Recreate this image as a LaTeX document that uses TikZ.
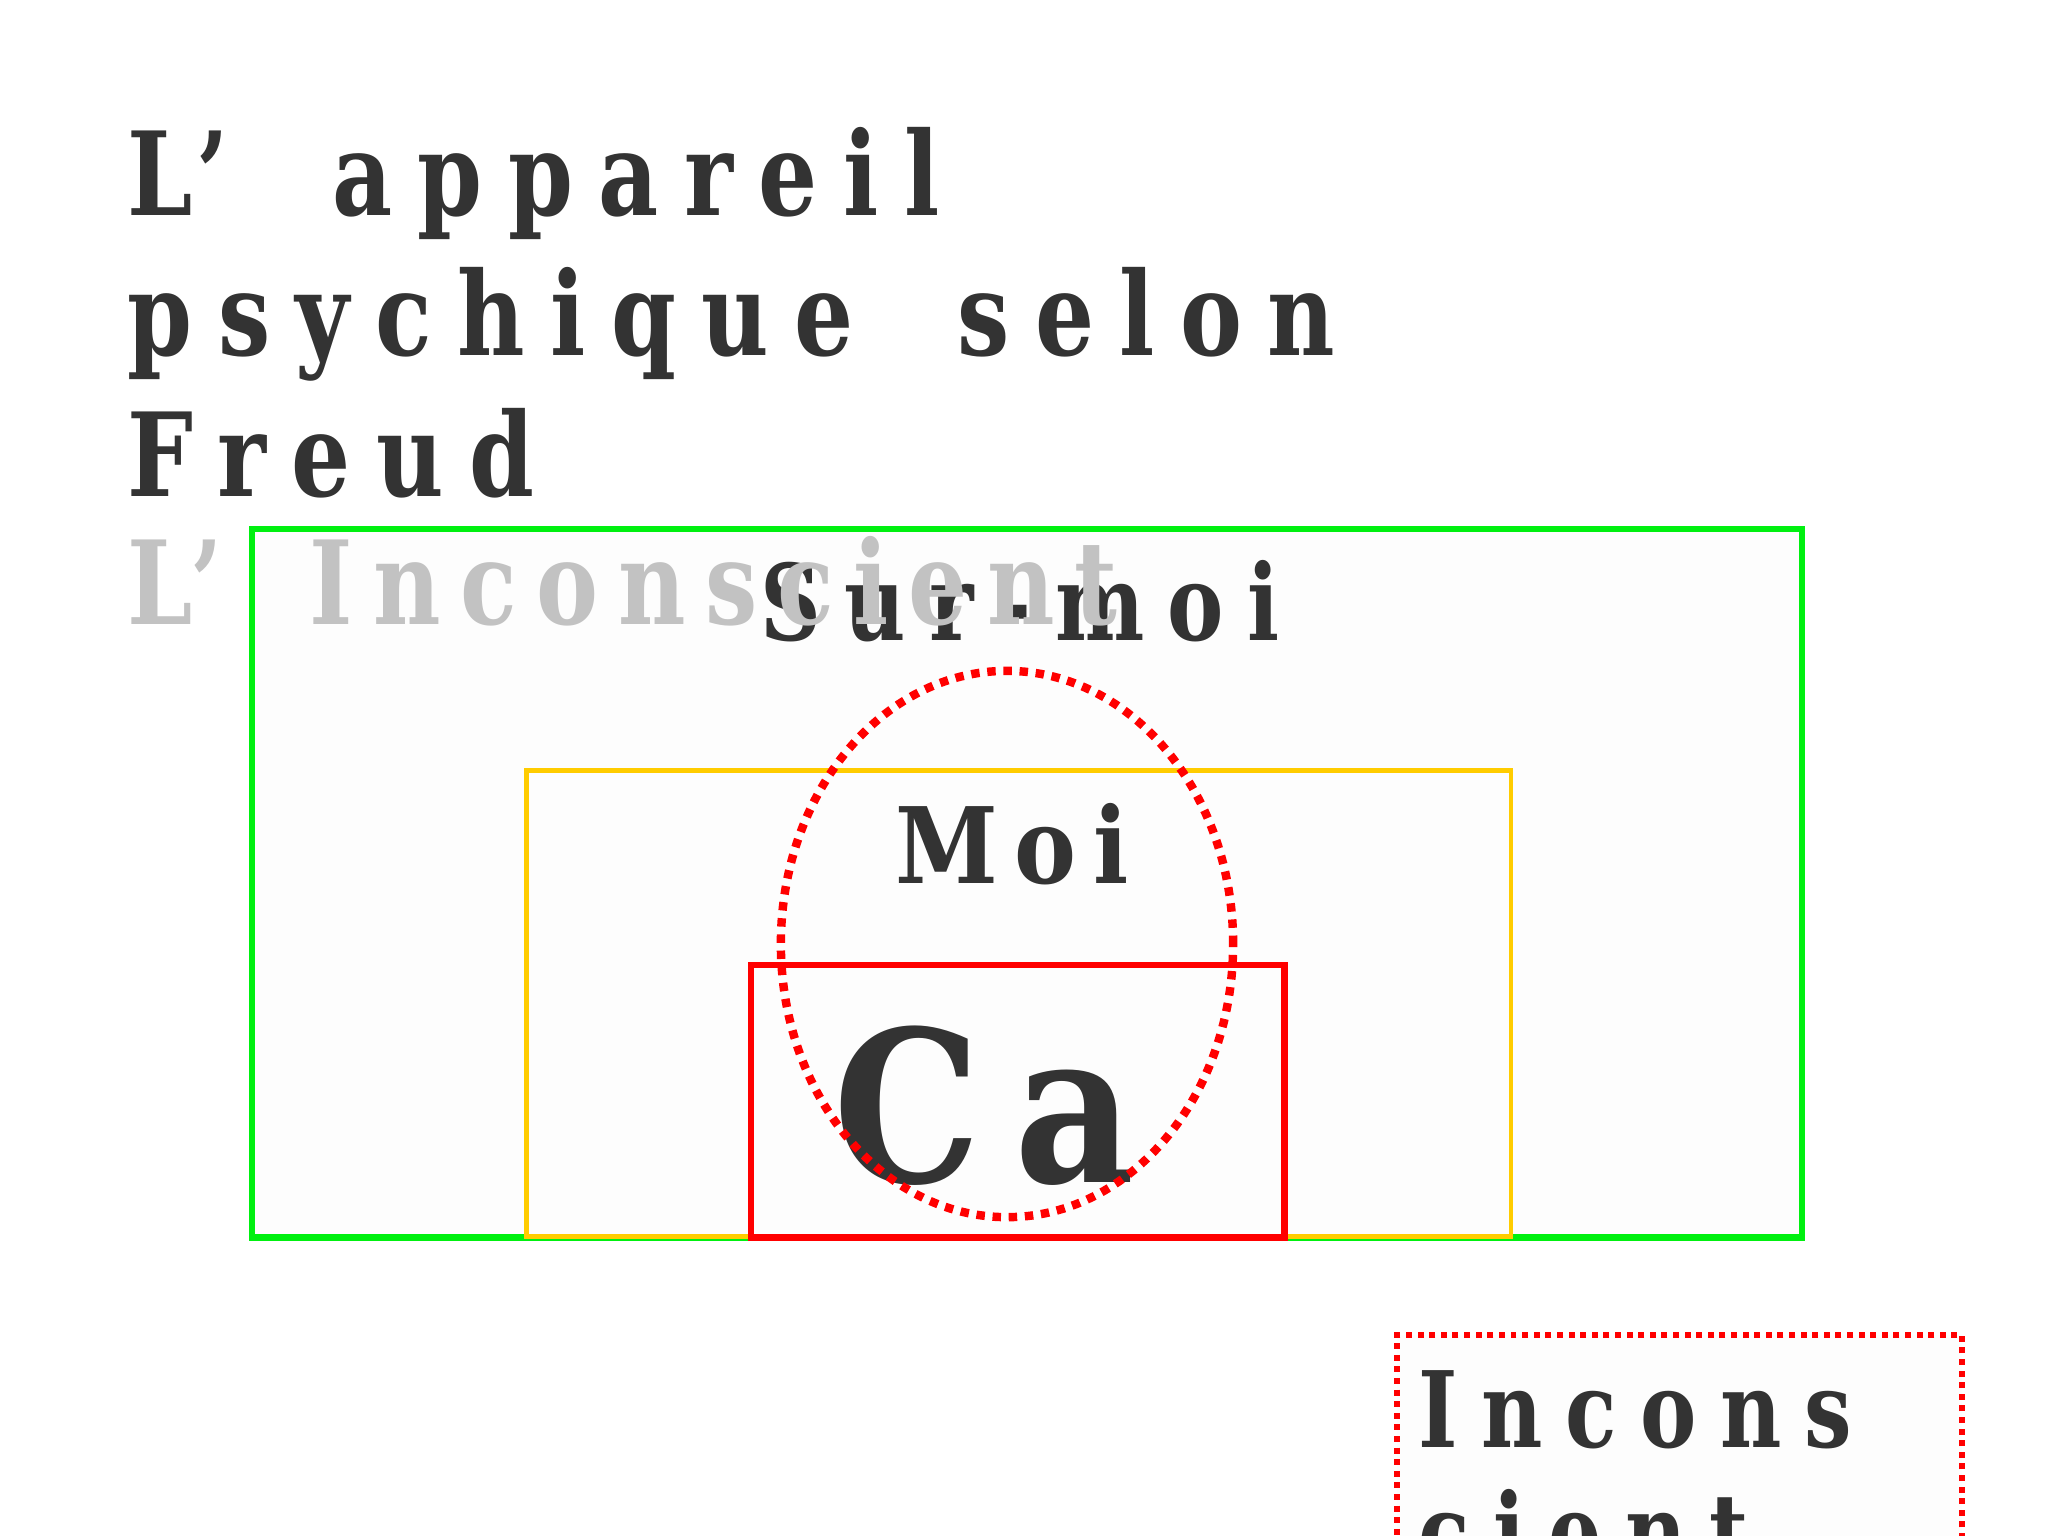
\documentclass[tikz,border=0pt]{standalone}
\usepackage{fontspec}
\setmainfont{DejaVu Serif}
\newfontfamily\narrowfont{DejaVu Serif}[FakeStretch=0.8, LetterSpace=22]
\newfontfamily\fadedfont{DejaVu Serif}[FakeStretch=0.8, LetterSpace=17]
\newfontfamily\spacedfont{DejaVu Serif}[FakeStretch=0.88, LetterSpace=16]
\usepackage{tikz}
\usetikzlibrary{positioning, shapes.geometric}
\definecolor{ink}{HTML}{333333}
\definecolor{faded}{HTML}{C2C2C2}
\definecolor{surgreen}{HTML}{00F010}
\definecolor{moiyellow}{HTML}{FFCC00}
\definecolor{careed}{HTML}{FF0000}
\definecolor{paper}{HTML}{FDFDFD}
\tikzstyle{title} = [anchor=base west, inner sep=0pt, text=ink,
  font=\narrowfont\bfseries\fontsize{33pt}{40pt}\selectfont]
\tikzstyle{label} = [anchor=base, inner sep=0pt, text=ink,
  font=\narrowfont\bfseries\fontsize{30pt}{36pt}\selectfont]
\tikzstyle{zone} = [rectangle, draw, fill=paper, line width=1.8pt,
  anchor=north west]

\begin{document}
\begin{tikzpicture}[x=0.01cm, y=-0.01cm]
    \useasboundingbox (0,0) rectangle (2048,1536);
    \clip (0,0) rectangle (2048,1536);

    % titre
    \node [title] (t1) at (127,215) {L’\hspace{13pt} appareil};
    \node [title] (t2) at (127,355) {psychique\hspace{13pt} selon};
    \node [title] (t3) at (127,496) {Freud};

    % les trois instances
    \node [zone, draw=surgreen, minimum width=15.49cm, minimum height=7.08cm]
      (surmoi) at (249,526) {};
    \node [zone, draw=moiyellow, line width=1.3pt, minimum width=9.84cm,
      minimum height=4.66cm] (moi) at (524,768) {};
    \node [zone, draw=careed, minimum width=5.33cm, minimum height=2.72cm]
      (ca) at (748,962) {};

    \node [label] (surmoi-txt) at (1020,640) {Sur-moi};
    \node [title, text=faded, font=\fadedfont\bfseries\fontsize{33pt}{40pt}\selectfont]
      (t4) at (127,624) {L’\hspace{10pt} Inconscient};
    \node [label, font=\spacedfont\bfseries\fontsize{30pt}{36pt}\selectfont]
      (moi-txt) at (1012,883) {Moi};
    \node [label, font=\spacedfont\bfseries\fontsize{60pt}{70pt}\selectfont]
      (ca-txt) at (984,1182) {Ca};

    \tikzset{dotted line/.style={draw=careed, line width=2.4pt, dash pattern=on 2.4pt off 2.2pt}};
    \node (conscience) [dotted line, ellipse, minimum width=4.52cm,
      minimum height=5.46cm, inner sep=0pt] at (1007,944) {};

    % inconscient
    \node (incons-box) [zone, draw=careed, line width=1.7pt,
      dash pattern=on 1.7pt off 1.6pt, minimum width=5.65cm, minimum height=3cm]
      at (1394,1332) {};
    \node [title, font=\narrowfont\bfseries\fontsize{30pt}{34pt}\selectfont]
      (incons-txt) at (1418,1447) {Incons};
    \node [title, font=\narrowfont\bfseries\fontsize{30pt}{34pt}\selectfont]
      (cient-txt) at (1418,1569) {cient};
\end{tikzpicture}
\end{document}
